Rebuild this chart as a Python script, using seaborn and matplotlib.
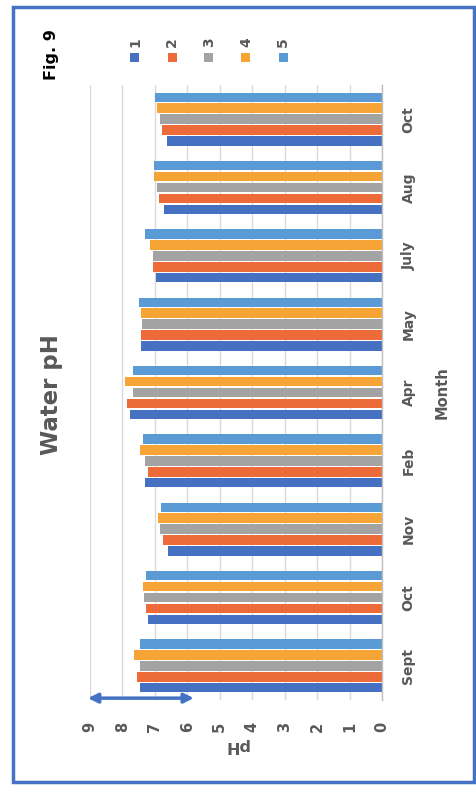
import pandas as pd
import matplotlib
matplotlib.use("Agg")
import matplotlib.pyplot as plt
from matplotlib.patches import Rectangle
import seaborn as sns

# Monthly water pH readings for five sampling sites
months = ["Sept", "Oct", "Nov", "Feb", "Apr", "May", "July", "Aug", "Oct"]
series = ["1", "2", "3", "4", "5"]
ph_1 = [7.47, 7.20, 6.59, 7.31, 7.78, 7.43, 6.98, 6.72, 6.63]
ph_2 = [7.55, 7.28, 6.76, 7.22, 7.85, 7.42, 7.07, 6.88, 6.78]
ph_3 = [7.47, 7.35, 6.83, 7.30, 7.68, 7.41, 7.07, 6.95, 6.85]
ph_4 = [7.64, 7.36, 6.89, 7.45, 7.92, 7.42, 7.14, 7.04, 6.93]
ph_5 = [7.47, 7.27, 6.82, 7.36, 7.67, 7.49, 7.29, 7.03, 7.00]
ph_ticks = list(range(10))
colors = ["#4670C2", "#EC6B38", "#A3A3A3", "#F7A436", "#5B9BD5"]
neutral_band = (9.06, 5.8)   # marked pH range along the axis

rows = []
for name, vals in zip(series, [ph_1, ph_2, ph_3, ph_4, ph_5]):
    for i, v in enumerate(vals):
        rows.append({"slot": i, "series": name, "pH": v})
df = pd.DataFrame(rows)

sns.set_style("white")
plt.rcParams["font.family"] = ["DejaVu Sans"]

W, H = 477, 792
fig = plt.figure(figsize=(W / 100, H / 100), dpi=100)
ax = fig.add_axes([90 / W, 1 - 700 / H, (382 - 90) / W, 615 / H])

sns.barplot(data=df, x="pH", y="slot", hue="series", hue_order=series,
            order=list(range(len(months))), orient="h", palette=colors,
            saturation=1, gap=0.13, linewidth=0, errorbar=None, legend=False,
            ax=ax)

ax.set_xlim(9, 0)
ax.set_ylim(-0.5, len(months) - 0.5)
ax.set_xticks(ph_ticks)
ax.set_xticklabels([str(t) for t in ph_ticks], rotation=90, fontsize=10.5,
                   fontweight="bold", color="#595959")
ax.tick_params(axis="x", length=0, pad=16)
ax.yaxis.tick_right()
ax.set_yticks(range(len(months)))
ax.set_yticklabels(months, rotation=90, fontsize=10, fontweight="bold",
                   color="#595959", va="center")
ax.tick_params(axis="y", length=0, pad=14)
ax.grid(axis="x", color="#D9D9D9", lw=1)
ax.grid(axis="y", visible=False)
ax.set_axisbelow(True)
for side in ["top", "left", "bottom"]:
    ax.spines[side].set_visible(False)
ax.spines["right"].set_color("#BFBFBF")
ax.spines["right"].set_linewidth(1)

ax.yaxis.set_label_position("right")
ax.set_ylabel("Month", rotation=90, fontsize=10.5, fontweight="bold",
              color="#595959", labelpad=14)
ax.set_xlabel("pH", rotation=180, fontsize=11.5, fontweight="bold",
              color="#595959", labelpad=4)

# double-headed marker under the bars
ax.annotate("", xy=(neutral_band[0], 0.003), xytext=(neutral_band[1], 0.003),
            xycoords=("data", "axes fraction"), textcoords=("data", "axes fraction"),
            arrowprops=dict(arrowstyle="<|-|>", color="#4472C4", lw=2.5,
                            mutation_scale=14, shrinkA=0, shrinkB=0),
            annotation_clip=False)

fig.text(52 / W, 1 - 395 / H, "Water pH", rotation=90, ha="center", va="center",
         fontsize=16.5, fontweight="bold", color="#595959")
fig.text(52 / W, 1 - 55 / H, "Fig. 9", rotation=90, ha="center", va="center",
         fontsize=11.5, fontweight="bold", color="black")

# legend row
sq = 9
for i, (name, c) in enumerate(zip(series, colors)):
    cx = 135 + i * 37
    fig.add_artist(Rectangle(((cx - sq / 2) / W, 1 - (57 + sq / 2) / H), sq / W, sq / H,
                             transform=fig.transFigure, color=c, lw=0))
    fig.text(cx / W, 1 - 42 / H, name, rotation=90, ha="center", va="center",
             fontsize=10, fontweight="bold", color="#595959")

fig.add_artist(Rectangle((13 / W, 1 - 782 / H), (474 - 13) / W, (782 - 7) / H,
                         transform=fig.transFigure, fill=False,
                         edgecolor="#4472C4", lw=2.5))

fig.savefig("out.png", dpi=100)
